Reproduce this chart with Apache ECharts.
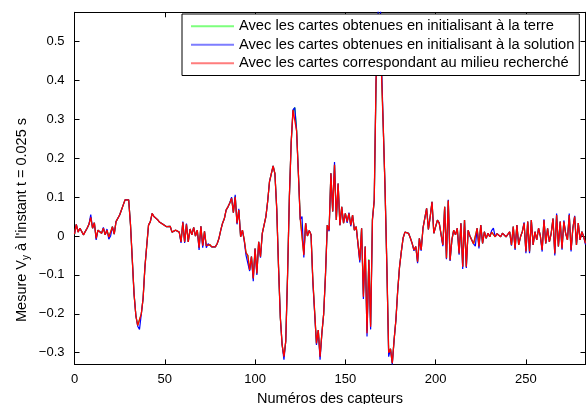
<!DOCTYPE html>
<html><head><meta charset="utf-8">
<script src="https://cdn.jsdelivr.net/npm/echarts@6/dist/echarts.min.js"></script>
<style>html,body{margin:0;padding:0;background:#fff}#c{width:587px;height:404px}</style>
</head><body><div id="c"></div>
<script>
const firstSensor = 0;
const xMin = 0, xMax = 283;
const yMin = -0.33, yMax = 0.575;
const xTicks = [0, 50, 100, 150, 200, 250];
const yTicks = [-0.3, -0.2, -0.1, 0, 0.1, 0.2, 0.3, 0.4, 0.5];
const seriesNames = [
  'Avec les cartes obtenues en initialisant à la terre',
  'Avec les cartes obtenues en initialisant à la solution',
  'Avec les cartes correspondant au milieu recherché'
];
const xTitle = 'Numéros des capteurs';
const yTitle = 'Mesure V{sub|y} à l\'instant t = 0.025 s';

// red: maps of the sought medium
const milieu = [
 0.005, 0.03, 0.01, 0.02, 0.015, 0.003, 0.012, 0.02, 0.03, 0.048,
 0.02, 0.034, -0.006, 0.015, 0.015, 0.007, 0.02, 0.003, 0.015, -0.003,
 0.0, 0.024, 0.005, 0.037, 0.033, 0.054, 0.067, 0.08, 0.093, 0.088,
 0.093, 0.03, -0.06, -0.15, -0.205, -0.23, -0.234, -0.2, -0.16, -0.08,
 -0.025, 0.028, 0.037, 0.058, 0.05, 0.046, 0.042, 0.036, 0.034, 0.03,
 0.032, 0.024, 0.02, 0.025, 0.01, 0.015, 0.015, 0.02, 0.01, -0.015,
 0.035, -0.015, 0.03, -0.015, 0.018, 0.003, 0.022, 0.0, 0.015, -0.03,
 0.025, -0.025, 0.012, -0.025, -0.02, -0.022, -0.028, -0.032, -0.028, -0.02,
 -0.006, 0.015, 0.033, 0.045, 0.067, 0.075, 0.085, 0.097, 0.06, 0.1,
 0.033, 0.067, -0.002, 0.015, -0.01, -0.043, -0.05, -0.087, -0.053, -0.109,
 -0.032, -0.096, -0.015, -0.053, 0.007, 0.01, 0.05, 0.09, 0.14, 0.16,
 0.18, 0.16, 0.07, -0.08, -0.21, -0.28, -0.31, -0.27, -0.1, 0.1,
 0.24, 0.324, 0.328, 0.27, 0.16, 0.045, 0.05, -0.049, 0.033, 0.0,
 0.014, 0.003, -0.113, -0.113, -0.276, -0.242, -0.31, -0.25, -0.2, -0.1,
 0.028, 0.015, 0.161, 0.063, 0.183, 0.041, 0.135, 0.028, 0.075, 0.033,
 0.058, 0.037, 0.058, 0.028, 0.054, 0.015, 0.024, 0.028, -0.062, 0.02,
 -0.156, -0.027, -0.25, -0.062, -0.233, 0.041, 0.093, 0.4, 0.52, 0.5,
 0.42, 0.28, 0.12, -0.08, -0.3, -0.29, -0.327, -0.267, -0.216, -0.14,
 -0.08, -0.04, -0.005, 0.01, 0.013, 0.007, -0.005, -0.019, -0.036, -0.027,
 -0.066, -0.006, -0.036, 0.02, 0.022, 0.071, 0.017, 0.05, 0.088, 0.007,
 0.024, 0.041, 0.033, 0.037, -0.023, 0.075, -0.057, 0.091, -0.062, -0.01,
 0.015, 0.003, 0.02, -0.045, 0.033, -0.079, 0.041, -0.079, 0.015, 0.0,
 -0.01, -0.02, -0.019, 0.02, -0.027, 0.028, -0.019, 0.011, -0.006, 0.007,
 -0.002, 0.01, 0.015, -0.002, 0.006, 0.009, -0.002, 0.007, 0.003, -0.002,
 -0.006, 0.011, -0.023, 0.024, -0.032, 0.028, -0.023, -0.002, 0.011, 0.033,
 -0.04, 0.037, -0.04, 0.041, -0.023, 0.011, -0.01, 0.02, 0.0, -0.036,
 0.041, -0.019, 0.02, -0.015, 0.007, 0.045, -0.045, 0.054, -0.027, 0.037,
 -0.032, 0.037, 0.007, -0.01, 0.054, -0.036, 0.02, 0.05, -0.023, 0.033,
 -0.01, 0.011, -0.002, -0.019
];

// blue: initialised at the solution
const solution = [
 0.005, 0.03, 0.01, 0.02, 0.015, 0.003, 0.012, 0.02, 0.03, 0.055,
 0.02, 0.034, -0.01, 0.015, 0.015, 0.007, 0.022, 0.003, 0.018, -0.008,
 0.0, 0.024, 0.005, 0.037, 0.033, 0.054, 0.067, 0.08, 0.093, 0.088,
 0.093, 0.03, -0.06, -0.15, -0.205, -0.232, -0.24, -0.2, -0.16, -0.08,
 -0.025, 0.028, 0.037, 0.058, 0.05, 0.046, 0.042, 0.036, 0.034, 0.03,
 0.032, 0.024, 0.02, 0.025, 0.01, 0.015, 0.015, 0.02, 0.01, -0.018,
 0.037, -0.018, 0.032, -0.015, 0.018, 0.003, 0.022, 0.0, 0.015, -0.036,
 0.025, -0.03, 0.012, -0.03, -0.02, -0.022, -0.028, -0.032, -0.028, -0.02,
 -0.006, 0.015, 0.033, 0.045, 0.067, 0.075, 0.085, 0.1, 0.06, 0.106,
 0.03, 0.07, -0.002, 0.015, -0.012, -0.05, -0.05, -0.09, -0.053, -0.116,
 -0.032, -0.1, -0.015, -0.056, 0.007, 0.01, 0.05, 0.09, 0.14, 0.16,
 0.18, 0.16, 0.07, -0.08, -0.21, -0.28, -0.318, -0.27, -0.1, 0.1,
 0.24, 0.324, 0.33, 0.27, 0.16, 0.042, 0.05, -0.055, 0.033, 0.0,
 0.014, 0.003, -0.118, -0.113, -0.28, -0.242, -0.318, -0.25, -0.2, -0.1,
 0.028, 0.012, 0.161, 0.063, 0.19, 0.041, 0.135, 0.028, 0.075, 0.033,
 0.058, 0.034, 0.06, 0.025, 0.054, 0.015, 0.024, 0.028, -0.068, 0.02,
 -0.162, -0.027, -0.258, -0.062, -0.24, 0.041, 0.093, 0.4, 0.55, 0.7,
 0.45, 0.28, 0.12, -0.08, -0.31, -0.29, -0.33, -0.267, -0.216, -0.14,
 -0.08, -0.04, -0.005, 0.01, 0.013, 0.007, -0.005, -0.019, -0.038, -0.027,
 -0.07, -0.006, -0.038, 0.02, 0.022, 0.071, 0.017, 0.05, 0.088, 0.007,
 0.024, 0.041, 0.033, 0.037, -0.026, 0.075, -0.06, 0.093, -0.064, -0.01,
 0.015, 0.003, 0.02, -0.048, 0.033, -0.085, 0.041, -0.082, 0.015, 0.0,
 -0.01, -0.02, -0.026, 0.02, -0.032, 0.028, -0.019, 0.011, -0.006, 0.007,
 -0.002, 0.014, 0.02, -0.002, 0.006, 0.009, -0.002, 0.007, 0.003, -0.002,
 -0.006, 0.011, -0.025, 0.024, -0.036, 0.028, -0.023, -0.002, 0.011, 0.035,
 -0.044, 0.037, -0.044, 0.041, -0.023, 0.011, -0.01, 0.02, 0.0, -0.04,
 0.043, -0.019, 0.02, -0.015, 0.007, 0.045, -0.05, 0.058, -0.027, 0.037,
 -0.035, 0.04, 0.007, -0.01, 0.058, -0.04, 0.02, 0.052, -0.023, 0.033,
 -0.01, 0.011, -0.002, -0.022
];

// green: initialised at the earth
const terre = [
 0.005, 0.03, 0.01, 0.02, 0.015, 0.003, 0.012, 0.02, 0.03, 0.048,
 0.02, 0.034, -0.006, 0.015, 0.015, 0.007, 0.02, 0.003, 0.015, -0.003,
 0.0, 0.024, 0.005, 0.037, 0.033, 0.054, 0.067, 0.08, 0.093, 0.088,
 0.093, 0.03, -0.06, -0.15, -0.205, -0.23, -0.234, -0.2, -0.16, -0.08,
 -0.025, 0.028, 0.037, 0.058, 0.05, 0.046, 0.042, 0.036, 0.034, 0.03,
 0.032, 0.024, 0.02, 0.025, 0.01, 0.015, 0.015, 0.02, 0.01, -0.015,
 0.035, -0.015, 0.03, -0.015, 0.018, 0.003, 0.022, 0.0, 0.015, -0.03,
 0.025, -0.025, 0.012, -0.025, -0.02, -0.022, -0.028, -0.032, -0.028, -0.02,
 -0.006, 0.015, 0.033, 0.045, 0.067, 0.075, 0.085, 0.097, 0.06, 0.102,
 0.033, 0.067, -0.002, 0.015, -0.01, -0.043, -0.05, -0.087, -0.053, -0.109,
 -0.032, -0.096, -0.015, -0.053, 0.007, 0.01, 0.05, 0.09, 0.14, 0.16,
 0.18, 0.16, 0.07, -0.08, -0.21, -0.28, -0.31, -0.27, -0.1, 0.1,
 0.24, 0.32, 0.33, 0.275, 0.16, 0.048, 0.052, -0.046, 0.033, 0.0,
 0.014, 0.003, -0.113, -0.113, -0.276, -0.242, -0.31, -0.25, -0.2, -0.1,
 0.028, 0.015, 0.161, 0.063, 0.183, 0.041, 0.135, 0.028, 0.075, 0.033,
 0.058, 0.037, 0.058, 0.028, 0.054, 0.015, 0.024, 0.028, -0.062, 0.02,
 -0.15, -0.027, -0.245, -0.06, -0.228, 0.045, 0.09, 0.39, 0.5, 0.49,
 0.42, 0.28, 0.12, -0.08, -0.3, -0.29, -0.327, -0.267, -0.216, -0.14,
 -0.08, -0.04, -0.005, 0.01, 0.013, 0.007, -0.005, -0.019, -0.036, -0.027,
 -0.066, -0.006, -0.036, 0.02, 0.022, 0.071, 0.017, 0.05, 0.088, 0.007,
 0.024, 0.041, 0.033, 0.037, -0.023, 0.075, -0.057, 0.091, -0.062, -0.01,
 0.015, 0.003, 0.02, -0.045, 0.033, -0.079, 0.041, -0.079, 0.015, 0.0,
 -0.01, -0.02, -0.019, 0.02, -0.027, 0.028, -0.019, 0.011, -0.006, 0.007,
 -0.002, 0.01, 0.015, -0.002, 0.006, 0.009, -0.002, 0.007, 0.003, -0.002,
 -0.006, 0.011, -0.023, 0.024, -0.032, 0.028, -0.023, -0.002, 0.011, 0.033,
 -0.04, 0.037, -0.04, 0.041, -0.023, 0.011, -0.01, 0.02, 0.0, -0.036,
 0.041, -0.019, 0.02, -0.015, 0.007, 0.045, -0.045, 0.054, -0.027, 0.037,
 -0.032, 0.037, 0.007, -0.01, 0.054, -0.036, 0.02, 0.05, -0.023, 0.033,
 -0.01, 0.011, -0.002, -0.019
];

const FONT = '"Liberation Sans", Arial, Helvetica, sans-serif';
const toPairs = arr => arr.map((v, i) => [firstSensor + i, v]);
const fmtY = v => {
  const r = Math.round(v * 10) / 10;
  if (r === 0) return '0';
  return (r < 0 ? '\u2212' : '') + Math.abs(r).toFixed(1);
};

const chart = echarts.init(document.getElementById('c'), null, {renderer: 'canvas'});
const tickStyle = {inside: true, length: 5, lineStyle: {color: '#000', width: 1}};
const lineAxis = {show: true, onZero: false, lineStyle: {color: '#000', width: 1}};

chart.setOption({
  animation: false,
  backgroundColor: '#fff',
  textStyle: {fontFamily: FONT},
  grid: {left: 74.5, right: 1.5, top: 12.3, bottom: 39.6, containLabel: false, outerBoundsMode: 'none'},
  xAxis: [
    {type: 'value', min: xMin, max: xMax, position: 'bottom',
     axisLine: lineAxis, splitLine: {show: false},
     axisTick: Object.assign({customValues: xTicks}, tickStyle),
     axisLabel: {customValues: xTicks, color: '#000', fontSize: 13, fontFamily: FONT, margin: 9},
     name: xTitle, nameLocation: 'middle', nameGap: 25,
     nameTextStyle: {color: '#000', fontSize: 14.5, fontFamily: FONT}},
    {type: 'value', min: xMin, max: xMax, position: 'top',
     axisLine: lineAxis, splitLine: {show: false},
     axisTick: Object.assign({customValues: xTicks}, tickStyle),
     axisLabel: {show: false}}
  ],
  yAxis: [
    {type: 'value', min: yMin, max: yMax, position: 'left',
     axisLine: lineAxis, splitLine: {show: false},
     axisTick: Object.assign({customValues: yTicks}, tickStyle),
     axisLabel: {customValues: yTicks, formatter: fmtY, color: '#000', fontSize: 13, fontFamily: FONT, margin: 10}},
    {type: 'value', min: yMin, max: yMax, position: 'right',
     axisLine: lineAxis, splitLine: {show: false},
     axisTick: Object.assign({customValues: yTicks}, tickStyle),
     axisLabel: {show: false}}
  ],
  legend: {
    orient: 'vertical', left: 182, top: 14,
    padding: [3, 5, 3, 9], itemGap: 0, itemWidth: 43, itemHeight: 2, itemTextGap: 6,
    icon: 'rect',
    backgroundColor: '#fff', borderColor: '#000', borderWidth: 1,
    textStyle: {color: '#000', fontSize: 14.7, lineHeight: 18.5, fontFamily: FONT},
    data: seriesNames
  },
  graphic: [{
    type: 'text', x: 22, y: 220, rotation: Math.PI / 2,
    style: {
      text: yTitle, fill: '#000', fontSize: 14.5, fontFamily: FONT,
      align: 'center', verticalAlign: 'middle',
      rich: {sub: {fontSize: 10, fontFamily: FONT, fill: '#000', padding: [9, 0, 0, 0]}}
    }
  }],
  series: [
    {name: seriesNames[0], type: 'line', data: toPairs(terre), showSymbol: false, symbol: 'none',
     lineStyle: {color: '#00ff00', width: 1.2}, itemStyle: {color: '#7dff7d'}, clip: true},
    {name: seriesNames[1], type: 'line', data: toPairs(solution), showSymbol: false, symbol: 'none',
     lineStyle: {color: '#0000ff', width: 1.2}, itemStyle: {color: '#7d7dff'}, clip: true},
    {name: seriesNames[2], type: 'line', data: toPairs(milieu), showSymbol: false, symbol: 'none',
     lineStyle: {color: '#ff0000', width: 1.3}, itemStyle: {color: '#ff7d7d'}, clip: true}
  ]
});
</script>
</body></html>
